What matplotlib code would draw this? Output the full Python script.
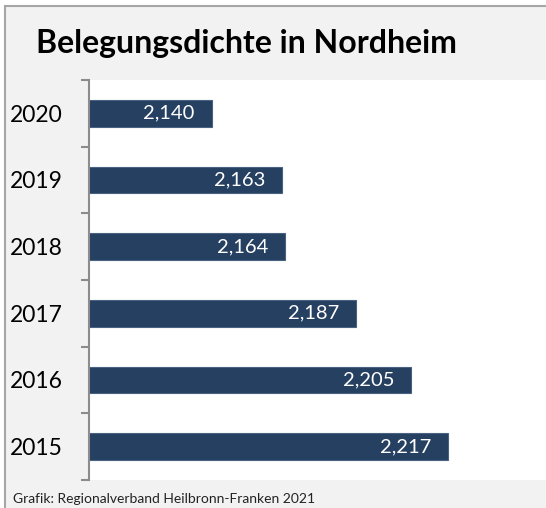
import numpy as np
import matplotlib.pyplot as plt
from matplotlib.patches import Rectangle

# Belegungsdichte (Personen je Wohnung) in Nordheim
jahre = ['2015', '2016', '2017', '2018', '2019', '2020']
werte = [2.217, 2.205, 2.187, 2.164, 2.163, 2.140]

plt.rcParams['font.family'] = ['Lato', 'DejaVu Sans']

W, H = 546, 508
fig = plt.figure(figsize=(W / 100, H / 100), dpi=100, facecolor='white')

# grauer Rahmen mit hellgrauem Hintergrund (rechts und unten abgeschnitten)
fig.patches.append(Rectangle((4.5 / W, -0.1), 1.2, 1.1 - 6.5 / H, transform=fig.transFigure,
                             facecolor='#f2f2f2', edgecolor='#a6a6a6', lw=1.5, zorder=-5))

ax = fig.add_axes([89 / W, 1 - 480 / H, 1 - 89 / W, (480 - 80) / H])
ax.set_facecolor('white')

y = np.arange(len(jahre))
ax.barh(y, werte, height=0.4, color='#264061', edgecolor='#4a6282', lw=0.8)
ax.set_xlim(2.1, 2.249)
ax.set_ylim(-0.5, len(jahre) - 0.5)

for yi, v in zip(y, werte):
    ax.text(v - 0.0055, yi, f'{v:.3f}'.replace('.', ','), color='white',
            ha='right', va='center', fontsize=14.5)

for s in ['top', 'right', 'bottom']:
    ax.spines[s].set_visible(False)
ax.spines['left'].set_color('#8c8c8c')
ax.spines['left'].set_linewidth(1.5)
ax.set_xticks([])
ax.set_yticks(y)
ax.set_yticklabels(jahre, fontsize=16.5)
ax.tick_params(axis='y', which='major', length=0, pad=19)
ax.set_yticks(np.arange(-0.5, len(jahre)), minor=True)
ax.tick_params(axis='y', which='minor', length=6, width=1.5, color='#8c8c8c')

fig.text(36 / W, 1 - 44 / H, 'Belegungsdichte in Nordheim', fontsize=23,
         fontweight='bold', va='center', ha='left')
fig.text(13 / W, 1 - 499 / H, 'Grafik: Regionalverband Heilbronn-Franken 2021',
         fontsize=10, va='center', ha='left', color='#222222')

fig.savefig('out.png', dpi=100, facecolor=fig.get_facecolor())
